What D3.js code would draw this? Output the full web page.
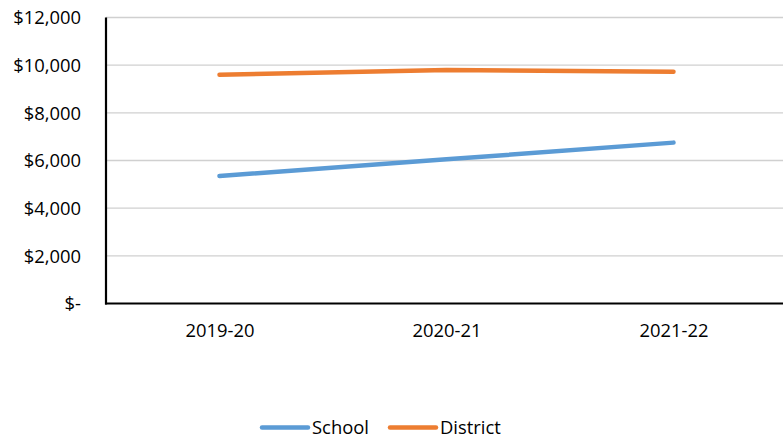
<!DOCTYPE html>
<html><head><meta charset="utf-8">
<script src="https://cdn.jsdelivr.net/npm/d3@7"></script>
<style>body{margin:0;background:#fff}svg{display:block}text{font-family:"Open Sans",sans-serif;fill:#000}</style>
</head><body><svg id="c" width="783" height="439"></svg>
<script>
const categories = ["2019-20","2020-21","2021-22"];
const school = [5350, 6050, 6750];
const district = [9600, 9800, 9725];
const yTicks = [0,2000,4000,6000,8000,10000,12000];
const seriesNames = ["School","District"];
const colors = ["#5B9BD5","#ED7D31"];

const svg = d3.select("#c");
const pLeft = 106, pRight = 787, pTop = 17.5, pBottom = 303.5;
const x = d3.scalePoint().domain(categories).range([pLeft, pRight]).padding(0.5);
const y = d3.scaleLinear().domain([0,12000]).range([pBottom, pTop]);
const fmt = v => v === 0 ? "$-" : "$" + d3.format(",")(v);

// gridlines
svg.append("g").selectAll("line").data(yTicks.filter(d=>d>0)).join("line")
  .attr("x1", pLeft).attr("x2", 783).attr("y1", d=>y(d)).attr("y2", d=>y(d))
  .attr("stroke","#d0d0d0").attr("stroke-width",1.4);

// y axis
const ya = svg.append("g").attr("transform",`translate(${pLeft},0)`)
  .call(d3.axisLeft(y).tickValues(yTicks).tickFormat(fmt).tickSize(0).tickPadding(25));
ya.select(".domain").remove();
ya.selectAll("text").attr("font-size","18.4px").attr("font-family","Open Sans").attr("dy","0.35em").attr("fill","#000");
svg.append("line").attr("x1",pLeft).attr("x2",pLeft).attr("y1",pTop).attr("y2",pBottom+1)
  .attr("stroke","#000").attr("stroke-width",2.2);

// x axis
const xa = svg.append("g").attr("transform",`translate(0,${pBottom})`)
  .call(d3.axisBottom(x).tickSize(0).tickPadding(20));
xa.select(".domain").remove();
xa.selectAll("text").attr("font-size","18.4px").attr("font-family","Open Sans").attr("fill","#000");
svg.append("line").attr("x1",pLeft-1).attr("x2",783).attr("y1",pBottom).attr("y2",pBottom)
  .attr("stroke","#000").attr("stroke-width",2.2);

// lines
const line = d3.line().x((d,i)=>x(categories[i])).y(d=>y(d));
[school, district].forEach((s,k)=>{
  svg.append("path").attr("d", line(s)).attr("fill","none")
    .attr("stroke", colors[k]).attr("stroke-width",4.5)
    .attr("stroke-linecap","round").attr("stroke-linejoin","round");
});

// legend
const legendX = [[262,308,312],[390,436,440]];
seriesNames.forEach((n,k)=>{
  svg.append("line").attr("x1",legendX[k][0]).attr("x2",legendX[k][1])
    .attr("y1",427.5).attr("y2",427.5).attr("stroke",colors[k]).attr("stroke-width",4.5)
    .attr("stroke-linecap","round");
  svg.append("text").attr("x",legendX[k][2]).attr("y",427.5).attr("dy","0.35em")
    .attr("font-size","18.4px").text(n);
});
</script></body></html>
